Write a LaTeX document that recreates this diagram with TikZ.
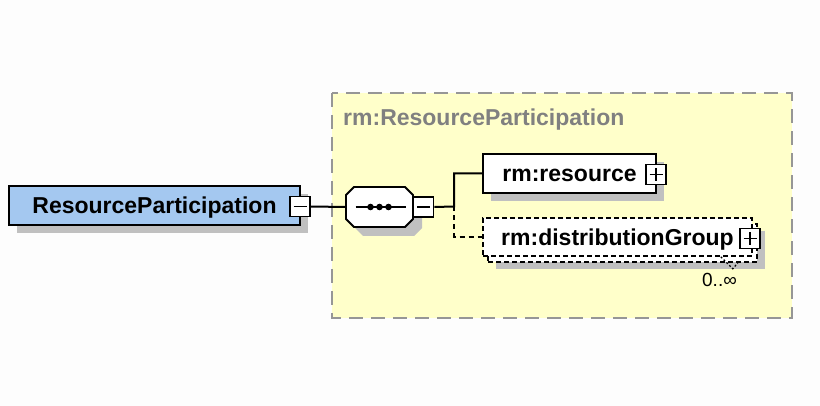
\documentclass[tikz,border=0pt]{standalone}
\usepackage{fontspec}
\setmainfont{Liberation Sans}
\usetikzlibrary{shadows,positioning}

\definecolor{bgwhite}{RGB}{253,253,253}
\definecolor{elemblue}{RGB}{164,200,240}
\definecolor{grpyellow}{RGB}{255,255,202}
\definecolor{grpborder}{RGB}{150,150,150}
\definecolor{grptext}{RGB}{128,128,128}
\definecolor{shadowgray}{RGB}{192,192,192}

\newcommand{\elemfont}{\bfseries\fontsize{23}{27}\selectfont}
\newcommand{\multfont}{\fontsize{19}{22}\selectfont}

\tikzset{
  elembox/.style={draw=black, line width=1.8pt, fill=white, inner sep=0pt, font=\elemfont,
    text height=17pt, text depth=0pt,
    general shadow={fill=shadowgray, shadow xshift=8pt, shadow yshift=-8pt}},
  optbox/.style={draw=black, line width=1.6pt, dash pattern=on 5pt off 3pt, fill=white,
    inner sep=0pt, font=\elemfont, text height=17pt, text depth=0pt,
    general shadow={fill=shadowgray, draw=none, shadow xshift=13pt, shadow yshift=-13pt},
    general shadow={draw=black, fill=white, shadow xshift=5pt, shadow yshift=-6pt}},
  togglebox/.style={draw=black, line width=1.6pt, fill=white, minimum size=20pt, inner sep=0pt},
  sign/.style={line width=1.6pt},
  conn/.style={line width=2pt},
  optconn/.style={conn, dash pattern=on 5pt off 4pt},
}

\begin{document}
\begin{tikzpicture}[x=1pt,y=-1pt]
\fill[bgwhite] (0,0) rectangle (820,406);
\useasboundingbox (0,0) rectangle (820,406);

% group
\draw[grpborder, fill=grpyellow, line width=2pt, dash pattern=on 14pt off 8pt] (332,93) rectangle (792,318);
\node[anchor=west, inner sep=0pt, text=grptext, font=\elemfont, text height=17pt, text depth=0pt] (grplabel) at (343,117.5) {rm:ResourceParticipation};

% element
\node[elembox, fill=elemblue, minimum width=291pt, minimum height=39pt] (main) at (154.5,205.5) {ResourceParticipation};
\node[togglebox] (mainminus) at (300,206.5) {};
\draw[sign] ([xshift=-6.5pt]mainminus.center) -- ([xshift=6.5pt]mainminus.center);

% sequence
\node[minimum width=67pt, minimum height=40pt, inner sep=0pt] (seq) at (379.5,207) {};
\fill[shadowgray, shift={(seq.center)}, shift={(9,9)}] (-25.5,-20) -- (25.5,-20) -- (33.5,-12) -- (33.5,12) -- (25.5,20) -- (-25.5,20) -- (-33.5,12) -- (-33.5,-12) -- cycle;
\filldraw[fill=white, draw=black, line width=1.8pt, shift={(seq.center)}] (-25.5,-20) -- (25.5,-20) -- (33.5,-12) -- (33.5,12) -- (25.5,20) -- (-25.5,20) -- (-33.5,12) -- (-33.5,-12) -- cycle;
\draw[conn] ([xshift=-24pt]seq.center) -- ([xshift=26pt]seq.center);
\foreach \dx in {-9,0,9}
  \fill ([xshift=\dx pt]seq.center) circle (3.3);
\node[togglebox] (seqminus) at (423.5,207) {};
\draw[sign] ([xshift=-6.5pt]seqminus.center) -- ([xshift=6.5pt]seqminus.center);

% children
\node[elembox, minimum width=173pt, minimum height=39pt] (resource) at (569.5,173.5) {rm:resource};
\node[togglebox] (resplus) at (656,174.5) {};
\draw[sign] ([xshift=-6.5pt]resplus.center) -- ([xshift=6.5pt]resplus.center);
\draw[sign] ([yshift=-6.5pt]resplus.center) -- ([yshift=6.5pt]resplus.center);

\node[optbox, minimum width=269pt, minimum height=38pt] (dist) at (617.5,237) {rm:distributionGroup};
\node[togglebox] (distplus) at (750,238.5) {};
\draw[sign] ([xshift=-6.5pt]distplus.center) -- ([xshift=6.5pt]distplus.center);
\draw[sign] ([yshift=-6.5pt]distplus.center) -- ([yshift=6.5pt]distplus.center);
\node[font=\multfont, inner sep=0pt, anchor=base] (mult) at (719.5,287) {0..∞};
\draw[line width=1.2pt, dash pattern=on 2pt off 2pt] ([xshift=-32pt]dist.south east) -- ++(12,12) -- ++(5,-6);

% connectors
\coordinate (branch) at (454,206.5);
\draw[conn] (mainminus.east) -- (seq.west);
\draw[conn] (seqminus.east) -- (branch) |- (resource.west);
\draw[optconn] (branch) |- (dist.west);
\end{tikzpicture}
\end{document}
